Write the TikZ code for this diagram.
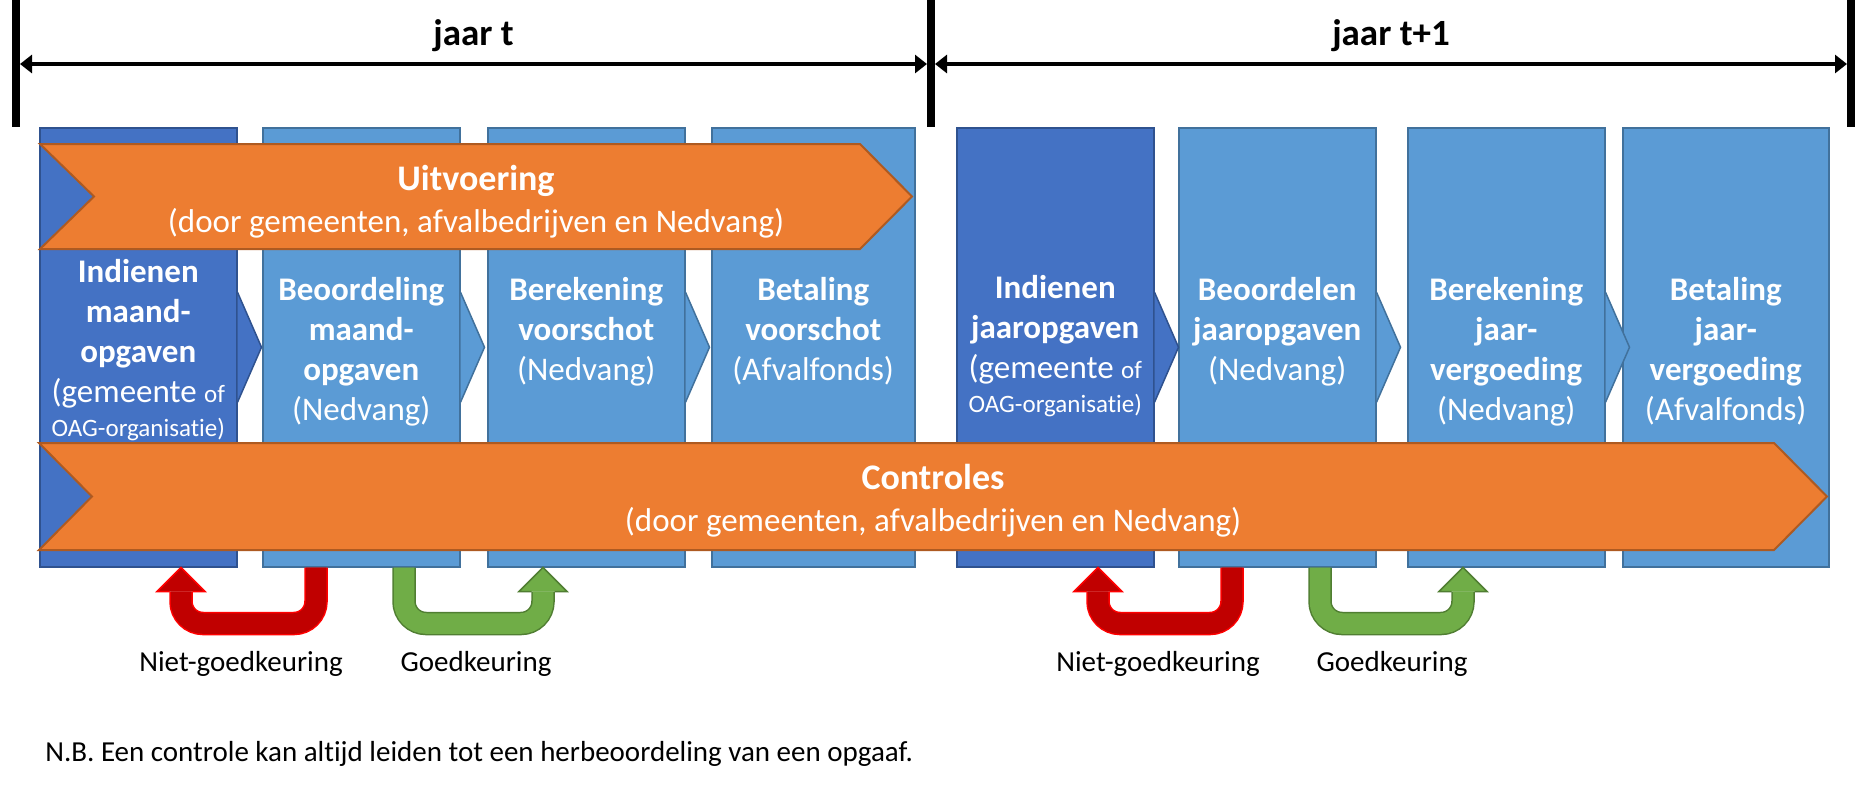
\documentclass[tikz,border=0pt]{standalone}
\usepackage{fontspec}
\setmainfont{Carlito}[Ligatures=NoCommon]
\usetikzlibrary{arrows.meta,positioning,calc}

\definecolor{blauwdonker}{HTML}{4472C4}
\definecolor{blauwdonkerrand}{HTML}{2F528F}
\definecolor{blauw}{HTML}{5B9BD5}
\definecolor{blauwrand}{HTML}{41719C}
\definecolor{oranje}{HTML}{ED7D31}
\definecolor{oranjerand}{HTML}{AE5A21}
\definecolor{rood}{HTML}{C00000}
\definecolor{roodrand}{HTML}{FF0000}
\definecolor{groen}{HTML}{70AD47}
\definecolor{groenrand}{HTML}{507E32}

\begin{document}
\begin{tikzpicture}[x=0.5pt,y=-0.5pt,
    stap/.style={shape=rectangle,draw=blauwrand,fill=blauw,line width=0.75pt,anchor=north west,
        inner sep=0pt,minimum width=98.5pt,minimum height=219.5pt},
    stapdonker/.style={stap,draw=blauwdonkerrand,fill=blauwdonker},
    staptekst/.style={text=white,align=center,anchor=north,inner sep=0pt,font=\fontsize{16.5}{20}\selectfont},
    balk/.style={draw=oranjerand,fill=oranje,line width=1pt},
    balktekst/.style={text=white,align=center,inner sep=0pt,font=\fontsize{16.5}{21}\selectfont},
    jaar/.style={line width=2pt,>={Triangle[length=6pt,width=9pt]},<->},
    grens/.style={line width=4pt},
    afkeur/.style={draw=roodrand,line width=0.75pt,double=rood,double distance=10.25pt,rounded corners=11pt},
    afkeurkop/.style={draw=roodrand,fill=rood,line width=0.75pt},
    goedkeur/.style={afkeur,draw=groenrand,double=groen},
    goedkeurkop/.style={afkeurkop,draw=groenrand,fill=groen},
    uitleg/.style={inner sep=0pt,font=\fontsize{14.5}{17}\selectfont}
]
    \useasboundingbox (0,0) rectangle (1864,788);

    \draw[grens] (16,0) -- (16,127);
    \draw[grens] (931,0) -- (931,127);
    \draw[grens] (1851,0) -- (1851,127);

    \coordinate (j1) at (20,64);
    \coordinate (j2) at (927,64);
    \coordinate (j3) at (935,64);
    \coordinate (j4) at (1847,64);
    \path[jaar] (j1) edge node[above=5pt,inner sep=0pt,font=\fontsize{18.5}{21}\selectfont\bfseries] {jaar t} (j2);
    \path[jaar] (j3) edge node[above=5pt,inner sep=0pt,font=\fontsize{18.5}{21}\selectfont\bfseries] {jaar t+1} (j4);

    \node[stapdonker] (b1) at (39,127) {};
    \node[stap] (b2) at (262,127) {};
    \node[stap] (b3) at (487,127) {};
    \node[stap,minimum width=101.5pt] (b4) at (711,127) {};
    \node[stapdonker] (b5) at (956,127) {};
    \node[stap] (b6) at (1178,127) {};
    \node[stap] (b7) at (1407,127) {};
    \node[stap,minimum width=103pt] (b8) at (1622,127) {};

    \foreach \b/\k/\r in {b1/blauwdonker/blauwdonkerrand,b2/blauw/blauwrand,b3/blauw/blauwrand,
        b5/blauwdonker/blauwdonkerrand,b6/blauw/blauwrand,b7/blauw/blauwrand}
        \draw[fill=\k,draw=\r,line width=0.75pt] ($(\b.east)+(0,-55)$) -- ++(24,55) -- ++(-24,55);

    \node[staptekst,below=66pt of b1.north] (t1) {\textbf{Indienen}\\\textbf{maand-}\\\textbf{opgaven}\\(gemeente {\fontsize{12.5}{15}\selectfont of}\\[-3pt]{\fontsize{12.5}{15}\selectfont OAG-organisatie)}};
    \node[staptekst,below=75pt of b2.north] (t2) {\textbf{Beoordeling}\\\textbf{maand-}\\\textbf{opgaven}\\(Nedvang)};
    \node[staptekst,below=75pt of b3.north] (t3) {\textbf{Berekening}\\\textbf{voorschot}\\(Nedvang)};
    \node[staptekst,below=75pt of b4.north] (t4) {\textbf{Betaling}\\\textbf{voorschot}\\(Afvalfonds)};
    \node[staptekst,below=74pt of b5.north] (t5) {\textbf{Indienen}\\\textbf{jaaropgaven}\\(gemeente {\fontsize{12.5}{15}\selectfont of}\\[-3pt]{\fontsize{12.5}{15}\selectfont OAG-organisatie)}};
    \node[staptekst,below=75pt of b6.north] (t6) {\textbf{Beoordelen}\\\textbf{jaaropgaven}\\(Nedvang)};
    \node[staptekst,below=75pt of b7.north] (t7) {\textbf{Berekening}\\\textbf{jaar-}\\\textbf{vergoeding}\\(Nedvang)};
    \node[staptekst,below=75pt of b8.north] (t8) {\textbf{Betaling}\\\textbf{jaar-}\\\textbf{vergoeding}\\(Afvalfonds)};

    \draw[balk] (40,144) -- (860,144) -- (912,196.5) -- (860,249) -- (40,249) -- (94,196.5) -- cycle;
    \node[balktekst] (uitv) at (476,202) {{\bfseries\fontsize{18}{21}\selectfont Uitvoering}\\(door gemeenten, afvalbedrijven en Nedvang)};

    \draw[balk] (39,443) -- (1774,443) -- (1827,496.5) -- (1774,550) -- (39,550) -- (92,496.5) -- cycle;
    \node[balktekst] (contr) at (933,501) {{\bfseries\fontsize{18}{21}\selectfont Controles}\\(door gemeenten, afvalbedrijven en Nedvang)};

    \foreach \a/\b/\c in {b1/b2/b3,b5/b6/b7} {
        \coordinate (r\a) at ($(\b.south west)+(54,0)$);
        \coordinate (s\a) at ($(\a.south west)+(142,24)$);
        \draw[afkeur] (r\a) -- ++(0,56) -| (s\a);
        \draw[afkeurkop] ($(s\a)+(-11.5,0)$) -- ++(-12.5,0) -- ($(\a.south west)+(142,0)$) -- ($(s\a)+(24,0)$) -- ++(-12.5,0);
        \coordinate (u\a) at ($(\b.south west)+(142,0)$);
        \coordinate (v\a) at ($(\c.south west)+(56,24)$);
        \draw[goedkeur] (u\a) -- ++(0,56) -| (v\a);
        \draw[goedkeurkop] ($(v\a)+(-11.5,0)$) -- ++(-12.5,0) -- ($(\c.south west)+(56,0)$) -- ($(v\a)+(24,0)$) -- ++(-12.5,0);
        \node[uitleg] (n\a) at ($(\a.south west)+(202,96)$) {Niet-goedkeuring};
        \node[uitleg] (k\a) at ($(\b.south west)+(214,96)$) {Goedkeuring};
    }

    \node[uitleg,anchor=west] (nb) at (45,754) {N.B. Een controle kan altijd leiden tot een herbeoordeling van een opgaaf.};
\end{tikzpicture}
\end{document}
